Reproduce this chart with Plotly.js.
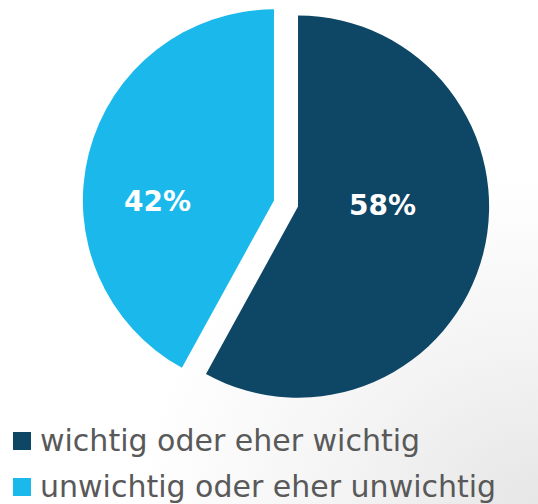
<!DOCTYPE html>
<html>
<head>
<meta charset="utf-8">
<script src="https://cdn.plot.ly/plotly-3.0.1.min.js"></script>
<style>
  html, body { margin: 0; padding: 0; }
  body {
    width: 538px; height: 504px; overflow: hidden;
    background: radial-gradient(ellipse 75% 65% at 100% 100%, #e6e6e6 0%, #f4f4f4 50%, #ffffff 100%);
  }
  #chart { width: 538px; height: 504px; }
</style>
</head>
<body>
<div id="chart"></div>
<script>
const categories = ["wichtig oder eher wichtig", "unwichtig oder eher unwichtig"];
const values = [58, 42];
const colors = ["#0e4665", "#1bb8ec"];

const W = 538, H = 504;
const px = x => x / W;
const py = y => 1 - y / H;
const total = values.reduce((a, b) => a + b, 0);

// legend (squares + labels) built from categories/colors
const shapes = categories.map((c, i) => {
  const top = 432 + i * 46;
  return {
    type: "rect", xref: "paper", yref: "paper",
    x0: px(13), x1: px(31), y0: py(top + 18), y1: py(top),
    fillcolor: colors[i], line: { width: 0 }
  };
});
const annotations = categories.map((c, i) => ({
  text: c, xref: "paper", yref: "paper",
  x: px(38), y: py(440 + i * 46),
  xanchor: "left", yanchor: "middle", showarrow: false,
  font: { family: "DejaVu Sans, sans-serif", size: 30, color: "#595959" }
}));

// percentage labels placed where the reference shows them
const labelPos = [[382, 205], [157, 201]];
values.forEach((v, i) => {
  annotations.push({
    text: Math.round(v / total * 100) + "%",
    xref: "paper", yref: "paper",
    x: px(labelPos[i][0]), y: py(labelPos[i][1]),
    xanchor: "center", yanchor: "middle", showarrow: false,
    font: { family: "DejaVu Sans, sans-serif", size: 28, color: "#ffffff", weight: "bold" }
  });
});

const trace = {
  type: "pie",
  labels: categories,
  values: values,
  marker: { colors: colors, line: { width: 0 } },
  sort: false,
  direction: "clockwise",
  rotation: 0,
  pull: [0.065, 0.065],
  textinfo: "none",
  hoverinfo: "label+percent",
  domain: { x: [px(82), px(490)], y: [py(407), 1] }
};

Plotly.newPlot("chart", [trace], {
  width: W, height: H,
  margin: { l: 0, r: 0, t: 0, b: 0 },
  paper_bgcolor: "rgba(0,0,0,0)",
  plot_bgcolor: "rgba(0,0,0,0)",
  showlegend: false,
  shapes: shapes,
  annotations: annotations
}, { displayModeBar: false, staticPlot: true });
</script>
</body>
</html>
